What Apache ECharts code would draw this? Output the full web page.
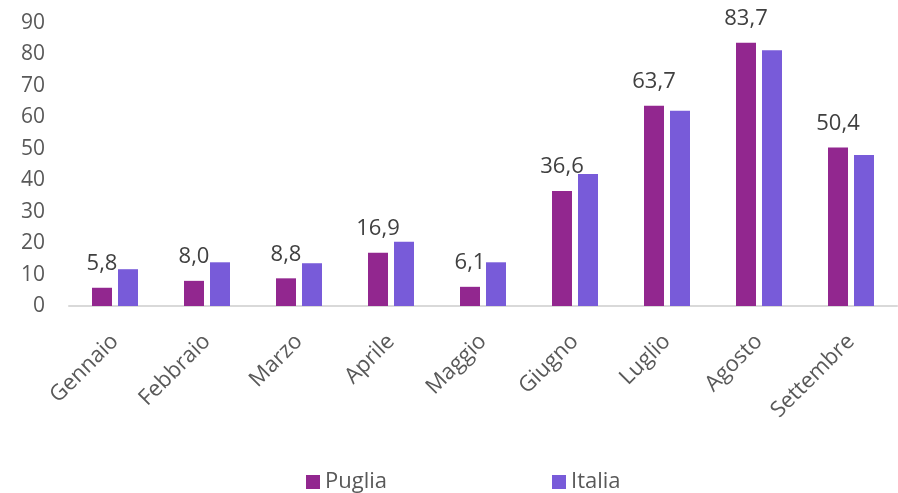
<!DOCTYPE html>
<html>
<head>
<meta charset="utf-8">
<script src="https://cdn.jsdelivr.net/npm/echarts@6/dist/echarts.min.js"></script>
<style>
html, body { margin: 0; padding: 0; background: #fff; }
#main { width: 898px; height: 493px; }
</style>
</head>
<body>
<div id="main"></div>
<script>
// mesi e valori
var mesi = ['Gennaio', 'Febbraio', 'Marzo', 'Aprile', 'Maggio', 'Giugno', 'Luglio', 'Agosto', 'Settembre'];
var puglia = [5.8, 8.0, 8.8, 16.9, 6.1, 36.6, 63.7, 83.7, 50.4];
var italia = [11.7, 13.9, 13.6, 20.4, 13.9, 42.0, 62.1, 81.3, 48.0];
var yTicks = [0, 10, 20, 30, 40, 50, 60, 70, 80, 90];

var font = '"Open Sans", "Noto Sans", sans-serif';

function showChart() {
    var myChart = echarts.init(document.getElementById('main'));
    var option = {
        animation: false,
        textStyle: { fontFamily: font },
        legend: {
            data: ['Puglia', 'Italia'],
            left: 301,
            top: 466,
            itemWidth: 14,
            itemHeight: 14,
            itemGap: 165,
            icon: 'rect',
            textStyle: { fontSize: 22, color: '#595959', fontFamily: font }
        },
        grid: {
            left: 69,
            right: 1,
            top: 23,
            bottom: 187,
            containLabel: false
        },
        xAxis: {
            type: 'category',
            data: mesi,
            axisLine: { lineStyle: { color: '#D9D9D9', width: 2 } },
            axisTick: { show: false },
            axisLabel: {
                rotate: 45,
                margin: 32,
                fontSize: 22,
                color: '#595959',
                fontFamily: font,
                interval: 0
            }
        },
        yAxis: {
            type: 'value',
            min: yTicks[0],
            max: yTicks[yTicks.length - 1],
            interval: 10,
            splitLine: { show: false },
            axisLine: { show: false },
            axisTick: { show: false },
            axisLabel: {
                margin: 24,
                fontSize: 21,
                color: '#595959',
                fontFamily: font
            }
        },
        series: [
            {
                name: 'Puglia',
                type: 'bar',
                data: puglia,
                barWidth: 20,
                barGap: '30%',
                itemStyle: { color: '#92278F' },
                label: {
                    show: true,
                    position: 'top',
                    distance: 13,
                    fontSize: 22,
                    color: '#404040',
                    fontFamily: font,
                    formatter: function (p) {
                        return p.value.toFixed(1).replace('.', ',');
                    }
                }
            },
            {
                name: 'Italia',
                type: 'bar',
                data: italia,
                barWidth: 20,
                itemStyle: { color: '#785BD9' }
            }
        ]
    };
    myChart.setOption(option);
}

showChart();
</script>
</body>
</html>
